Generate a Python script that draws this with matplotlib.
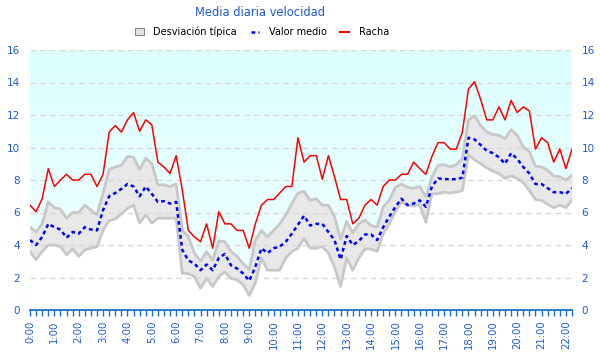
#!/usr/bin/env python3
"""
Daily average wind speed chart: mean, std-dev band and gust line.
"""
import numpy as np
import matplotlib
matplotlib.use("Agg")  # no display in the sandbox
import matplotlib.pyplot as plt
from matplotlib.patches import Patch
from matplotlib.lines import Line2D

# 15-minute samples from 0:00 to 22:15 (hours)
hours = np.arange(90) * 0.25
hour_labels = [f"{h}:00" for h in range(23)]

racha = [6.45, 6.05, 6.85, 8.7, 7.6, 8.0, 8.35, 8.0, 8.0, 8.35,
         8.35, 7.6, 8.35, 10.95, 11.35, 10.95, 11.7, 12.15, 11.0, 11.7,
         11.4, 9.1, 8.8, 8.4, 9.5, 7.4, 4.9, 4.5, 4.2, 5.3,
         3.8, 6.05, 5.3, 5.3, 4.9, 4.9, 3.8, 5.3, 6.45, 6.8,
         6.8, 7.2, 7.6, 7.6, 10.6, 9.1, 9.5, 9.5, 8.05, 9.5,
         8.2, 6.8, 6.8, 5.3, 5.65, 6.45, 6.8, 6.45, 7.6, 8.0,
         8.0, 8.35, 8.35, 9.1, 8.7, 8.35, 9.45, 10.3, 10.3, 9.9,
         9.9, 10.95, 13.6, 14.05, 12.95, 11.7, 11.7, 12.5, 11.7, 12.9,
         12.15, 12.5, 12.25, 9.9, 10.6, 10.3, 9.1, 9.9, 8.7, 9.9]

media = [4.3, 4.0, 4.5, 5.3, 5.1, 4.95, 4.45, 4.8, 4.7, 5.1,
         4.95, 4.9, 6.15, 7.0, 7.2, 7.45, 7.75, 7.6, 7.0, 7.6,
         7.15, 6.65, 6.7, 6.55, 6.65, 3.7, 3.05, 2.85, 2.45, 2.8,
         2.45, 3.2, 3.45, 2.75, 2.55, 2.25, 1.8, 2.65, 3.8, 3.5,
         3.8, 3.9, 4.2, 4.7, 5.25, 5.8, 5.2, 5.3, 5.3, 4.8,
         4.3, 3.1, 4.55, 4.0, 4.25, 4.65, 4.65, 4.3, 5.1, 5.75,
         6.35, 6.85, 6.45, 6.55, 6.75, 6.35, 7.6, 8.1, 8.05, 8.05,
         8.05, 8.15, 10.6, 10.5, 10.15, 9.8, 9.65, 9.4, 9.0, 9.65,
         9.3, 8.8, 8.4, 7.75, 7.75, 7.5, 7.25, 7.25, 7.15, 7.5]

desv_sup = [5.1, 4.8, 5.3, 6.65, 6.3, 6.2, 5.65, 6.0, 6.0, 6.45,
            6.15, 5.85, 7.2, 8.65, 8.8, 8.9, 9.45, 9.4, 8.65, 9.35,
            9.0, 7.7, 7.7, 7.6, 7.75, 4.9, 4.5, 3.5, 3.0, 3.6,
            3.05, 4.25, 4.2, 3.6, 3.3, 2.85, 2.5, 4.3, 4.9, 4.5,
            4.9, 5.3, 5.85, 6.55, 7.2, 7.3, 6.75, 6.85, 6.45, 6.45,
            5.75, 4.35, 5.45, 4.75, 5.3, 5.55, 5.2, 5.1, 6.35, 6.75,
            7.55, 7.75, 7.55, 7.5, 7.6, 6.95, 8.2, 8.9, 8.95, 8.8,
            8.95, 9.3, 11.7, 11.95, 11.35, 10.95, 10.8, 10.75, 10.55, 11.1,
            10.75, 10.05, 9.75, 8.85, 8.8, 8.6, 8.25, 8.2, 8.0, 8.3]

desv_inf = [3.6, 3.1, 3.6, 4.0, 4.0, 3.9, 3.4, 3.75, 3.3, 3.7,
            3.8, 3.9, 4.9, 5.5, 5.6, 5.9, 6.25, 6.45, 5.35, 5.85,
            5.35, 5.65, 5.65, 5.65, 5.65, 2.25, 2.25, 2.05, 1.35, 1.95,
            1.45, 2.05, 2.35, 1.95, 1.85, 1.55, 0.9, 1.65, 3.2, 2.45,
            2.45, 2.45, 3.2, 3.6, 3.8, 4.4, 3.8, 3.8, 3.9, 3.5,
            2.65, 1.45, 3.2, 2.45, 3.2, 3.75, 3.75, 3.6, 4.7, 5.3,
            6.05, 6.65, 6.45, 6.4, 6.5, 5.4, 7.15, 7.15, 7.25, 7.2,
            7.25, 7.35, 9.55, 9.25, 9.0, 8.75, 8.55, 8.4, 8.1, 8.25,
            8.1, 7.85, 7.35, 6.8, 6.75, 6.5, 6.3, 6.45, 6.3, 6.75]

BLUE_TXT = "#1f5bd0"
AXIS_BLUE = "#1a6fcc"

fig = plt.figure(figsize=(6, 3.6), dpi=100)
ax = fig.add_axes([30 / 600, 1 - 310 / 360, 542 / 600, 260 / 360])
ax.set_xlim(0, 22.25)
ax.set_ylim(0, 16)

# light cyan gradient background of the plot area
grad = np.linspace(0, 1, 256).reshape(-1, 1)
bg = np.dstack([0.86 + 0.09 * grad, np.ones_like(grad), np.ones_like(grad)])
ax.imshow(bg, extent=[0, 22.25, 0, 16], origin="upper", aspect="auto", zorder=0)

# white below the band, grey band with darker edges
ax.fill_between(hours, 0, desv_inf, color="white", lw=0, zorder=1)
ax.fill_between(hours, desv_inf, desv_sup, color="#e8e8e8", lw=0, zorder=1.5)
ax.plot(hours, desv_sup, color="#c8c8c8", lw=2, zorder=2.5)
ax.plot(hours, desv_inf, color="#c8c8c8", lw=2, zorder=2.5)

for y in range(2, 17, 2):
    ax.axhline(y, color="#d9d9d9", lw=1, dashes=(4, 3), zorder=2)

ax.plot(hours, racha, color="red", lw=1.1, zorder=3)
ax.plot(hours, media, color="blue", lw=1.8, linestyle=(0, (1.5, 1.3)), zorder=4)

# axes styling
for side in ("top", "left", "right"):
    ax.spines[side].set_visible(False)
ax.spines["bottom"].set_color(AXIS_BLUE)
ax.spines["bottom"].set_linewidth(1.3)
ax.spines["bottom"].set_zorder(5)

ax.set_xticks(np.arange(23))
ax.set_xticklabels(hour_labels, rotation=90, fontsize=7.3, color=BLUE_TXT)
ax.set_xticks(hours, minor=True)
ax.tick_params(axis="x", which="both", length=4.5, width=1, color=AXIS_BLUE, pad=3)

ax.set_yticks(range(0, 17, 2))
ax.tick_params(axis="y", length=0, labelsize=7.5, labelcolor=BLUE_TXT, pad=7,
               labelright=True)
ax.tick_params(axis="y", which="major")
for lbl in ax.get_yticklabels():
    lbl.set_color(BLUE_TXT)

fig.text(260 / 600, 1 - 12 / 360, "Media diaria velocidad", ha="center",
         va="center", fontsize=8.3, color=BLUE_TXT)

handles = [
    Patch(facecolor="#e4e4e4", edgecolor="#888888", lw=0.8),
    Line2D([0], [0], color="blue", lw=1.8, linestyle=(0, (1.5, 1.3))),
    Line2D([0], [0], color="red", lw=1.5),
]
fig.legend(handles, ["Desviación típica", "Valor medio", "Racha"],
           loc="center", bbox_to_anchor=(262 / 600, 1 - 32 / 360), ncol=3,
           frameon=False, fontsize=7, handlelength=0.9, handleheight=0.7,
           handletextpad=1.0, columnspacing=1.4)

fig.savefig("out.png", dpi=100)
plt.close(fig)
